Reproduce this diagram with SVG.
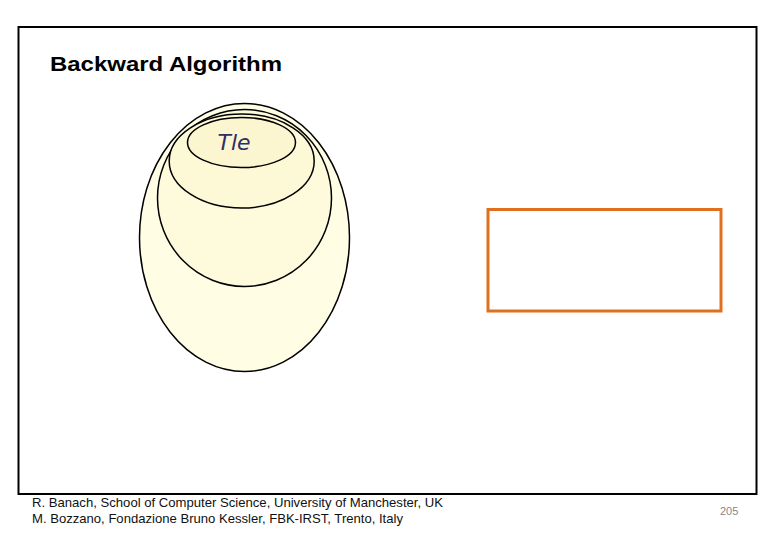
<svg xmlns="http://www.w3.org/2000/svg" width="780" height="540" viewBox="0 0 780 540">
<style>
.ell{stroke:#000;stroke-width:1.5}
.foot{font-family:"Liberation Sans",Arial,sans-serif;font-size:13px;fill:#111}
</style>
<rect width="780" height="540" fill="#fff"/>
<rect x="18.5" y="27" width="738" height="467" fill="none" stroke="#000" stroke-width="2"/>
<text x="50" y="71" font-family="Liberation Sans,Arial,sans-serif" font-size="21" font-weight="bold" fill="#000" textLength="232" lengthAdjust="spacingAndGlyphs">Backward Algorithm</text>
<g id="sets">
<ellipse id="e4" class="ell" cx="244.5" cy="237.5" rx="105" ry="134" fill="#FFFDE4"/>
<ellipse id="e3" class="ell" cx="244.5" cy="198" rx="87" ry="88.5" fill="#FEFBDC"/>
<ellipse id="e2" class="ell" cx="241.7" cy="161" rx="72.5" ry="47" fill="#FDF9D6"/>
<ellipse id="e1" class="ell" cx="241.5" cy="142.5" rx="54" ry="25" fill="#FCF6D0"/>
<text x="234" y="150" text-anchor="middle" font-family="DejaVu Sans,sans-serif" font-style="italic" font-size="21" fill="#2E2E6A" textLength="33" lengthAdjust="spacingAndGlyphs">Tle</text>
</g>
<g id="box"><rect x="488" y="209.5" width="233" height="101.5" fill="none" stroke="#E0701E" stroke-width="3"/></g>
<g id="connectors"></g>
<text class="foot" x="32" y="507" textLength="411" lengthAdjust="spacingAndGlyphs">R. Banach, School of  Computer Science, University of Manchester, UK</text>
<text class="foot" x="32" y="523" textLength="371" lengthAdjust="spacingAndGlyphs">M. Bozzano, Fondazione Bruno Kessler, FBK-IRST, Trento, Italy</text>
<text x="720" y="515" font-family="Liberation Sans,Arial,sans-serif" font-size="11" fill="#888">205</text>
</svg>
